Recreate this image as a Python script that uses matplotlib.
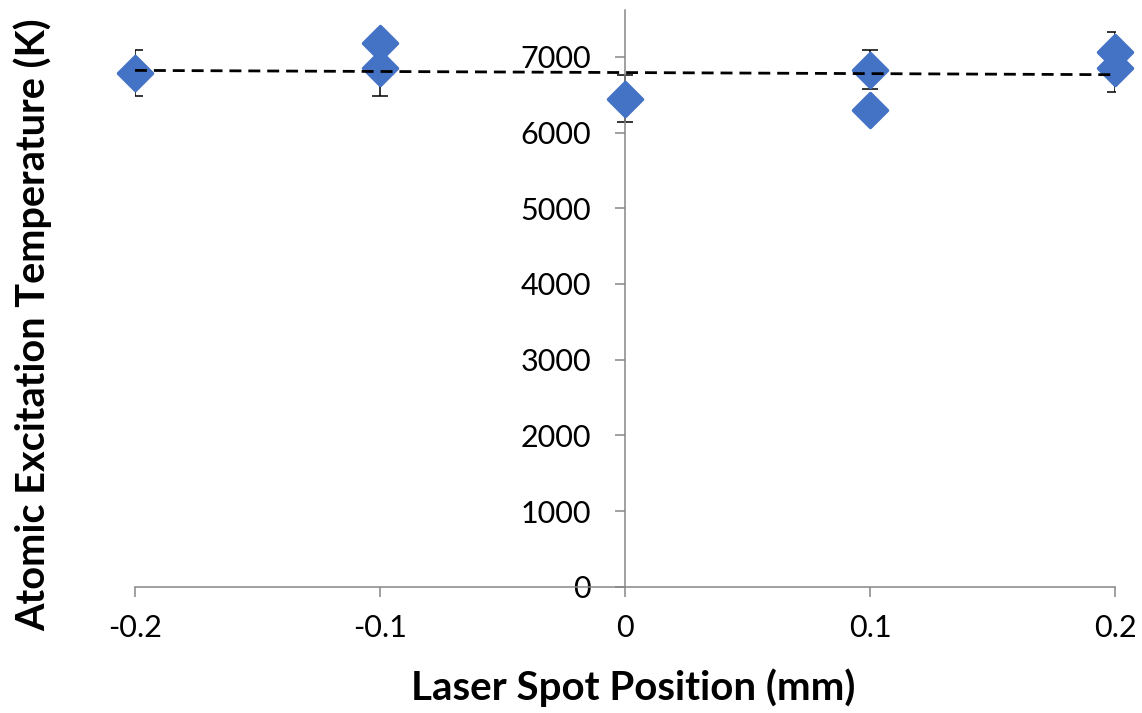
import numpy as np
import matplotlib.pyplot as plt
from matplotlib.markers import MarkerStyle

# ---- Data: laser spot position vs. excitation temperature ----
positions = [-0.2, -0.1, -0.1, 0.0, 0.1, 0.1, 0.2, 0.2]
temperatures = [6790, 7180, 6850, 6450, 6830, 6300, 7070, 6850]
temp_errors = [300, 0, 370, 310, 260, 0, 257, 309]

x_ticks = [-0.2, -0.1, 0, 0.1, 0.2]
x_tick_labels = ["-0.2", "-0.1", "0", "0.1", "0.2"]
y_ticks = [0, 1000, 2000, 3000, 4000, 5000, 6000, 7000]

plt.rcParams["font.family"] = ["Lato", "DejaVu Sans"]

axis_gray = "#868686"
marker_blue = "#4472C4"

fig = plt.figure(figsize=(11.42, 7.13), dpi=100)
ax = fig.add_axes([135 / 1142, (713 - 586.7) / 713, 980 / 1142, (586.7 - 10) / 713])

x = np.array(positions)
y = np.array(temperatures)
err = np.array(temp_errors)

# ---- Error bars (clipped to plot area) ----
has_err = err > 0
ax.errorbar(x[has_err], y[has_err], yerr=err[has_err], fmt="none",
            ecolor="black", elinewidth=1.1, capsize=6, capthick=1.1, zorder=2)

# ---- Linear trendline ----
slope, intercept = np.polyfit(x, y, 1)
xs = np.array([-0.2, 0.2])
ax.plot(xs, slope * xs + intercept, color="black", lw=2.0,
        dashes=(4.3, 2.5), zorder=4)

# ---- Markers (rounded diamonds, not clipped) ----
diamond = MarkerStyle("D", joinstyle="round")
ax.plot(x, y, linestyle="none", marker=diamond, ms=17, color=marker_blue,
        mec=marker_blue, mew=2.5, clip_on=False, zorder=3)

ax.set_xlim(-0.2, 0.2)
ax.set_ylim(0, 7620)

# ---- Axes styling ----
for side in ["top", "right"]:
    ax.spines[side].set_visible(False)
ax.spines["left"].set_position(("data", 0))
for side in ["left", "bottom"]:
    ax.spines[side].set_color(axis_gray)
    ax.spines[side].set_linewidth(1.1)

ax.set_xticks(x_ticks)
ax.set_xticklabels(x_tick_labels)
ax.set_yticks(y_ticks)
ax.tick_params(axis="both", colors=axis_gray, labelcolor="black",
               labelsize=22, width=1.1, length=7.5, direction="out")
ax.tick_params(axis="y", pad=17)
ax.tick_params(axis="x", pad=12)

fig.text(633 / 1142, 1 - 688 / 713, "Laser Spot Position (mm)",
         ha="center", va="center", fontsize=29, fontweight="bold")
fig.text(33 / 1142, 1 - 325 / 713, "Atomic Excitation Temperature (K)",
         ha="center", va="center", rotation=90, fontsize=28.5, fontweight="bold")

fig.savefig("out.png", dpi=100)
